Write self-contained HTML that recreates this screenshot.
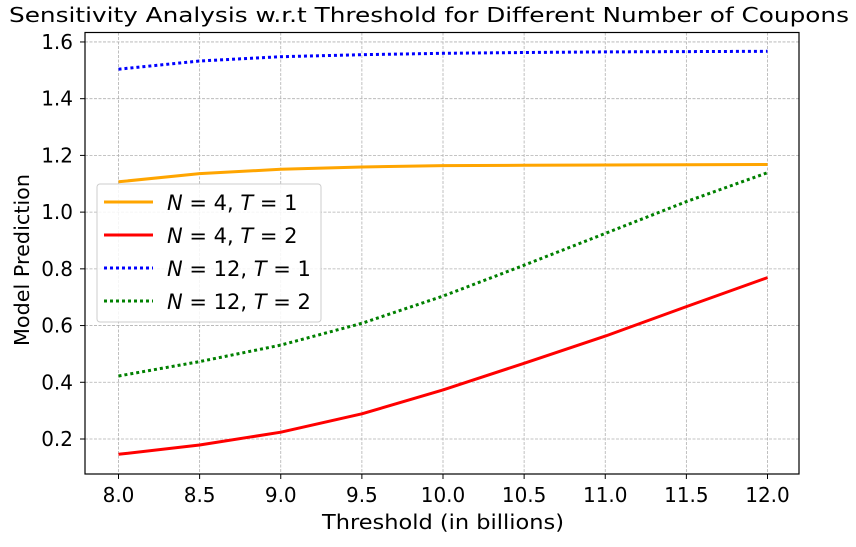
<!DOCTYPE html>
<html><head><meta charset="utf-8"><style>
body{margin:0;background:#fff;}
text{font-family:"DejaVu Sans","Liberation Sans",sans-serif;fill:#000;}
</style></head><body>
<svg id="chart" width="856" height="542" viewBox="0 0 856 542" xmlns="http://www.w3.org/2000/svg">
<text x="429" y="22" font-size="20" text-anchor="middle" textLength="840" lengthAdjust="spacingAndGlyphs">Sensitivity Analysis w.r.t Threshold for Different Number of Coupons</text>
<g id="grid"></g>
<g id="series"></g>
<rect x="85" y="32.5" width="714" height="441.5" fill="none" stroke="#000" stroke-width="1.2"/>
<g id="axes"></g>
<text x="443" y="529" font-size="20" text-anchor="middle" textLength="242" lengthAdjust="spacingAndGlyphs">Threshold (in billions)</text>
<text transform="translate(29,260) rotate(-90)" font-size="20" text-anchor="middle" textLength="172" lengthAdjust="spacingAndGlyphs">Model Prediction</text>
<g id="legend"></g>
</svg>
<script>
const xValues=[8.0,8.5,9.0,9.5,10.0,10.5,11.0,11.5,12.0];
const seriesN4T1=[1.107,1.136,1.151,1.159,1.164,1.165,1.166,1.167,1.168];
const seriesN4T2=[0.146,0.179,0.224,0.289,0.373,0.467,0.563,0.667,0.769];
const seriesN12T1=[1.504,1.533,1.548,1.555,1.560,1.563,1.565,1.566,1.567];
const seriesN12T2=[0.422,0.473,0.531,0.608,0.704,0.813,0.925,1.037,1.139];
const xTicks=[8.0,8.5,9.0,9.5,10.0,10.5,11.0,11.5,12.0];
const yTicks=[0.2,0.4,0.6,0.8,1.0,1.2,1.4,1.6];

const NS="http://www.w3.org/2000/svg";
const X0=85,X1=799,Y0=32.5,Y1=474;
function xs(v){return 118.5+(v-8)*162.25;}
function ys(v){return 439-(v-0.2)*283.6;}
function mk(tag,attrs,parent){const e=document.createElementNS(NS,tag);for(const k in attrs)e.setAttribute(k,attrs[k]);parent.appendChild(e);return e;}
const grid=document.getElementById('grid'),axes=document.getElementById('axes');
xTicks.forEach(t=>{
 const g=mk('line',{x1:xs(t),x2:xs(t),y1:Y0,y2:Y1,stroke:'#b0b0b0','stroke-width':0.8,'stroke-dasharray':'3,1.5'},grid);
 
 
 mk('line',{x1:xs(t),x2:xs(t),y1:Y1,y2:Y1+5,stroke:'#000','stroke-width':1},axes);
 const tx=mk('text',{x:xs(t),y:502,'font-size':20,'text-anchor':'middle'},axes);
 tx.textContent=t.toFixed(1);
 
 
});
yTicks.forEach(t=>{
 const g=mk('line',{x1:X0,x2:X1,y1:ys(t),y2:ys(t),stroke:'#b0b0b0','stroke-width':0.8,'stroke-dasharray':'3,1.5'},grid);
 
 
 mk('line',{x1:X0-5,x2:X0,y1:ys(t),y2:ys(t),stroke:'#000','stroke-width':1},axes);
 const tx=mk('text',{x:X0-12,y:ys(t)+7,'font-size':20,'text-anchor':'end'},axes);
 tx.textContent=t.toFixed(1);
 
 
});
const styles=[
 {data:seriesN4T1,color:'orange',dash:'',name:'line-n4-t1',n:'4',t:'1'},
 {data:seriesN4T2,color:'red',dash:'',name:'line-n4-t2',n:'4',t:'2'},
 {data:seriesN12T1,color:'blue',dash:'3,3',name:'line-n12-t1',n:'12',t:'1'},
 {data:seriesN12T2,color:'green',dash:'3,3',name:'line-n12-t2',n:'12',t:'2'}];
const sg=document.getElementById('series');
styles.forEach(s=>{
 const d=s.data.map((v,i)=>(i?'L':'M')+xs(xValues[i]).toFixed(1)+','+ys(v).toFixed(1)).join(' ');
 const p=mk('path',{d:d,fill:'none',stroke:s.color,'stroke-width':3,'stroke-dasharray':s.dash,'stroke-linejoin':'round'},sg);
 
 
});
const lg=document.getElementById('legend');
const box=mk('rect',{x:97,y:184,width:224,height:138,rx:3,fill:'#fff','fill-opacity':0.85,stroke:'#ccc','stroke-width':1},lg);


styles.forEach((s,i)=>{
 const y=202+i*33;
 const l=mk('line',{x1:104,x2:153,y1:y,y2:y,stroke:s.color,'stroke-width':3,'stroke-dasharray':s.dash},lg);
 
 
 const tx=mk('text',{x:167,y:y+8,'font-size':21},lg);
 tx.innerHTML='<tspan font-style="italic">N</tspan> = '+s.n+', <tspan font-style="italic">T</tspan> = '+s.t;
 
 
});
</script>
</body></html>
